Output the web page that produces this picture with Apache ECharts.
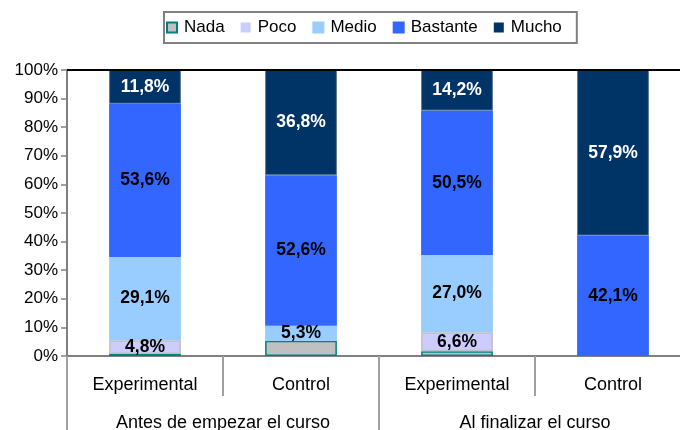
<!DOCTYPE html>
<html>
<head>
<meta charset="utf-8">
<script src="https://cdn.jsdelivr.net/npm/echarts@6/dist/echarts.min.js"></script>
<style>
  html, body { margin: 0; padding: 0; background: #fff; }
  #chart { width: 680px; height: 430px; }
</style>
</head>
<body>
<div id="chart"></div>
<script>
// Categories: group (Experimental / Control) within each course moment
const groups = ['Experimental', 'Control', 'Experimental', 'Control'];
const moments = ['Antes de empezar el curso', 'Al finalizar el curso'];

// Percentages per answer level, one value per bar
const nada     = [0.7, 5.3, 1.7, 0];
const poco     = [4.8, 0,   6.6, 0];
const medio    = [29.1, 5.3, 27.0, 0];
const bastante = [53.6, 52.6, 50.5, 42.1];
const mucho    = [11.8, 36.8, 14.2, 57.9];

const yTicks = [0, 10, 20, 30, 40, 50, 60, 70, 80, 90, 100];

const FONT = '"Liberation Sans", Arial, sans-serif';

function fmt(v) {
  return v.toFixed(1).replace('.', ',') + '%';
}

function makeSeries(name, data, fill, border, labelColor, showLabel) {
  return {
    name: name,
    type: 'bar',
    stack: 'total',
    barWidth: '46%',
    data: data.map(v => (v > 0 ? v : null)),
    itemStyle: { color: fill, borderColor: border, borderWidth: border ? 1.5 : 0 },
    label: {
      show: showLabel,
      position: 'inside',
      color: labelColor,
      fontFamily: FONT,
      fontWeight: 'bold',
      fontSize: 17.5,
      formatter: p => fmt(p.value)
    }
  };
}

const series = [
  makeSeries('Nada', nada, '#c0c0c0', '#008080', '#000', false),
  makeSeries('Poco', poco, '#ccccff', '#c0c0c0', '#000', true),
  makeSeries('Medio', medio, '#99ccff', '#99ccff', '#000', true),
  makeSeries('Bastante', bastante, '#3366ff', '#3366ff', '#000', true),
  makeSeries('Mucho', mucho, '#003366', '#003366', '#fff', true)
];
series[4].itemStyle.borderColor = '#5a7494';
series[4].itemStyle.borderWidth = 1;

// Top border line of the plot at 100%
series[0].markLine = {
  silent: true,
  symbol: 'none',
  label: { show: false },
  lineStyle: { color: '#000', width: 2, type: 'solid' },
  data: [{ yAxis: yTicks[yTicks.length - 1] }]
};
series.forEach(s => { s.z = 3; });
series[0].z = 2;

const chart = echarts.init(document.getElementById('chart'), null, { renderer: 'canvas' });
chart.setOption({
  animation: false,
  backgroundColor: '#fff',
  textStyle: { fontFamily: FONT },
  legend: {
    left: 164,
    top: 12,
    itemGap: 16,
    padding: [7, 15, 7, 2],
    borderColor: '#808080',
    borderWidth: 2,
    icon: 'rect',
    itemWidth: 10,
    itemHeight: 10,
    textStyle: { fontFamily: FONT, fontSize: 17, color: '#000', padding: [0, 0, 0, 2] },
    data: [
      { name: 'Nada', itemStyle: { borderWidth: 2 } },
      { name: 'Poco', itemStyle: { borderWidth: 0 } },
      { name: 'Medio' },
      { name: 'Bastante' },
      { name: 'Mucho', itemStyle: { borderWidth: 0 } }
    ]
  },
  grid: { left: 67, top: 70, width: 624, height: 286, containLabel: false, outerBoundsMode: 'none' },
  xAxis: [
    {
      type: 'category',
      data: groups,
      position: 'bottom',
      axisLine: { show: true, lineStyle: { color: '#808080', width: 2 } },
      axisTick: { show: true, length: 40, lineStyle: { color: '#a0a0a0', width: 2 } },
      axisLabel: { color: '#000', fontSize: 18, fontFamily: FONT, margin: 20 },
      splitLine: { show: false }
    },
    {
      type: 'category',
      data: moments,
      position: 'bottom',
      axisLine: { show: false },
      axisTick: { show: true, length: 76, lineStyle: { color: '#a0a0a0', width: 2 } },
      axisLabel: { color: '#000', fontSize: 18, fontFamily: FONT, margin: 58 },
      splitLine: { show: false }
    }
  ],
  yAxis: {
    type: 'value',
    min: yTicks[0],
    max: yTicks[yTicks.length - 1],
    interval: 10,
    axisLine: { show: true, lineStyle: { color: '#808080', width: 2 } },
    axisTick: { show: true, length: 6, lineStyle: { color: '#808080', width: 1.5 } },
    axisLabel: { color: '#000', fontSize: 17, fontFamily: FONT, margin: 9, formatter: '{value}%' },
    splitLine: { show: false }
  },
  series: series
});
</script>
</body>
</html>
